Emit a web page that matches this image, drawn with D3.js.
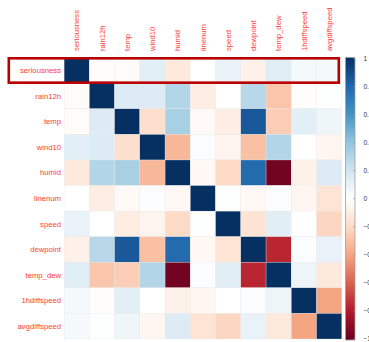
<!DOCTYPE html>
<html>
<head>
<meta charset="utf-8">
<script src="https://cdn.jsdelivr.net/npm/d3@7"></script>
<style>
  html, body { margin: 0; padding: 0; background: #fff; overflow: hidden; }
  svg { display: block; }
  text { font-family: "Liberation Sans", Arial, sans-serif; }
</style>
</head>
<body>
<svg id="chart" width="369" height="342"></svg>
<script>
// Variable names (rows and columns of the correlation matrix)
const variables = ["seriousness", "rain12h", "temp", "wind10", "humid", "linenum",
                   "speed", "dewpoint", "temp_dew", "1hdiffspeed", "avgdiffspeed"];

// Correlation matrix, one row per variable
const rowSeriousness  = [ 1.00, -0.02, -0.02,  0.12, -0.12,  0.00,  0.10, -0.08,  0.14,  0.05,  0.05];
const rowRain12h      = [-0.02,  1.00,  0.15,  0.15,  0.30, -0.10,  0.00,  0.28, -0.28, -0.01,  0.01];
const rowTemp         = [-0.02,  0.15,  1.00, -0.18,  0.33, -0.03, -0.10,  0.85, -0.25,  0.12,  0.07];
const rowWind10       = [ 0.12,  0.15, -0.18,  1.00, -0.33,  0.02, -0.06, -0.30,  0.30,  0.00, -0.05];
const rowHumid        = [-0.12,  0.30,  0.33, -0.33,  1.00, -0.04, -0.20,  0.78, -0.97, -0.08,  0.15];
const rowLinenum      = [ 0.00, -0.10, -0.03,  0.02, -0.04,  1.00,  0.01, -0.04,  0.02, -0.05, -0.15];
const rowSpeed        = [ 0.10,  0.00, -0.10, -0.06, -0.20,  0.01,  1.00, -0.15,  0.13,  0.00, -0.22];
const rowDewpoint     = [-0.08,  0.28,  0.85, -0.30,  0.78, -0.04, -0.15,  1.00, -0.76,  0.02,  0.10];
const rowTempDew      = [ 0.14, -0.28, -0.25,  0.30, -0.97,  0.02,  0.13, -0.76,  1.00,  0.08, -0.12];
const row1hDiffSpeed  = [ 0.05, -0.01,  0.12,  0.00, -0.08, -0.05,  0.00,  0.02,  0.08,  1.00, -0.40];
const rowAvgDiffSpeed = [ 0.05,  0.01,  0.07, -0.05,  0.15, -0.15, -0.22,  0.10, -0.12, -0.40,  1.00];

const matrix = [rowSeriousness, rowRain12h, rowTemp, rowWind10, rowHumid, rowLinenum,
                rowSpeed, rowDewpoint, rowTempDew, row1hDiffSpeed, rowAvgDiffSpeed];

// Colour-bar tick values
const legendTicks = [1, 0.8, 0.6, 0.4, 0.2, 0, -0.2, -0.4, -0.6, -0.8, -1];

// Row highlighted with a frame
const highlighted = "seriousness";

const svg = d3.select("#chart");

const x = d3.scaleBand().domain(variables).range([64.1, 341.8]).padding(0);
const y = d3.scaleBand().domain(variables).range([57.7, 339]).padding(0);

// RdBu diverging palette
const palette = ["#67001F", "#B2182B", "#D6604D", "#F4A582", "#FDDBC7", "#FFFFFF",
                 "#D1E5F0", "#92C5DE", "#4393C3", "#2166AC", "#053061"];
const color = d3.scaleLinear()
  .domain(d3.range(11).map(i => -1 + i * 0.2))
  .range(palette)
  .interpolate(d3.interpolateRgb);

const cells = [];
matrix.forEach((row, i) => row.forEach((v, j) => cells.push({ r: variables[i], c: variables[j], v })));

svg.append("g")
  .selectAll("rect")
  .data(cells)
  .join("rect")
  .attr("x", d => x(d.c))
  .attr("y", d => y(d.r))
  .attr("width", x.bandwidth())
  .attr("height", y.bandwidth())
  .attr("fill", d => color(d.v))
  .attr("stroke", "#e6e6e6")
  .attr("stroke-width", 0.3);

const labelColor = "#ff3b3b";

// Row labels
svg.append("g")
  .selectAll("text")
  .data(variables)
  .join("text")
  .attr("x", 61)
  .attr("y", d => y(d) + y.bandwidth() / 2)
  .attr("dy", "0.35em")
  .attr("text-anchor", "end")
  .attr("font-size", 7.7)
  .attr("fill", labelColor)
  .text(d => d);

// Column labels (rotated)
svg.append("g")
  .selectAll("text")
  .data(variables)
  .join("text")
  .attr("transform", d => `translate(${x(d) + x.bandwidth() / 2},51) rotate(-90)`)
  .attr("dy", "0.35em")
  .attr("text-anchor", "start")
  .attr("font-size", 7.7)
  .attr("fill", labelColor)
  .text(d => d);

// Colour bar
const barX = 345.5, barW = 9.5;
const ly = d3.scaleLinear().domain([1, -1]).range([58.5, 339]);
const defs = svg.append("defs");
const grad = defs.append("linearGradient")
  .attr("id", "cbar").attr("x1", 0).attr("y1", 1).attr("x2", 0).attr("y2", 0);
palette.forEach((c, i) => grad.append("stop").attr("offset", i / 10).attr("stop-color", c));

svg.append("rect")
  .attr("x", barX).attr("y", ly(1) - 1)
  .attr("width", barW).attr("height", ly(-1) - ly(1) + 2)
  .attr("fill", "url(#cbar)")
  .attr("stroke", "#a0a0a0")
  .attr("stroke-width", 0.8);

const tickG = svg.append("g");
tickG.selectAll("line")
  .data(legendTicks)
  .join("line")
  .attr("x1", barX + barW - 2).attr("x2", barX + barW)
  .attr("y1", d => ly(d)).attr("y2", d => ly(d))
  .attr("stroke", "#909090").attr("stroke-width", 0.6);
tickG.selectAll("text")
  .data(legendTicks)
  .join("text")
  .attr("x", barX + barW + 8.5)
  .attr("y", d => ly(d))
  .attr("dy", "0.35em")
  .attr("font-size", 6.5)
  .attr("fill", "#333")
  .text(d => d3.format("")(d));

// Frame around the highlighted row
svg.append("rect")
  .attr("x", 8.8)
  .attr("y", y(highlighted) + 0.6)
  .attr("width", 330)
  .attr("height", y.bandwidth() - 1.2)
  .attr("fill", "none")
  .attr("stroke", "#b80000")
  .attr("stroke-width", 2.6);
</script>
</body>
</html>
